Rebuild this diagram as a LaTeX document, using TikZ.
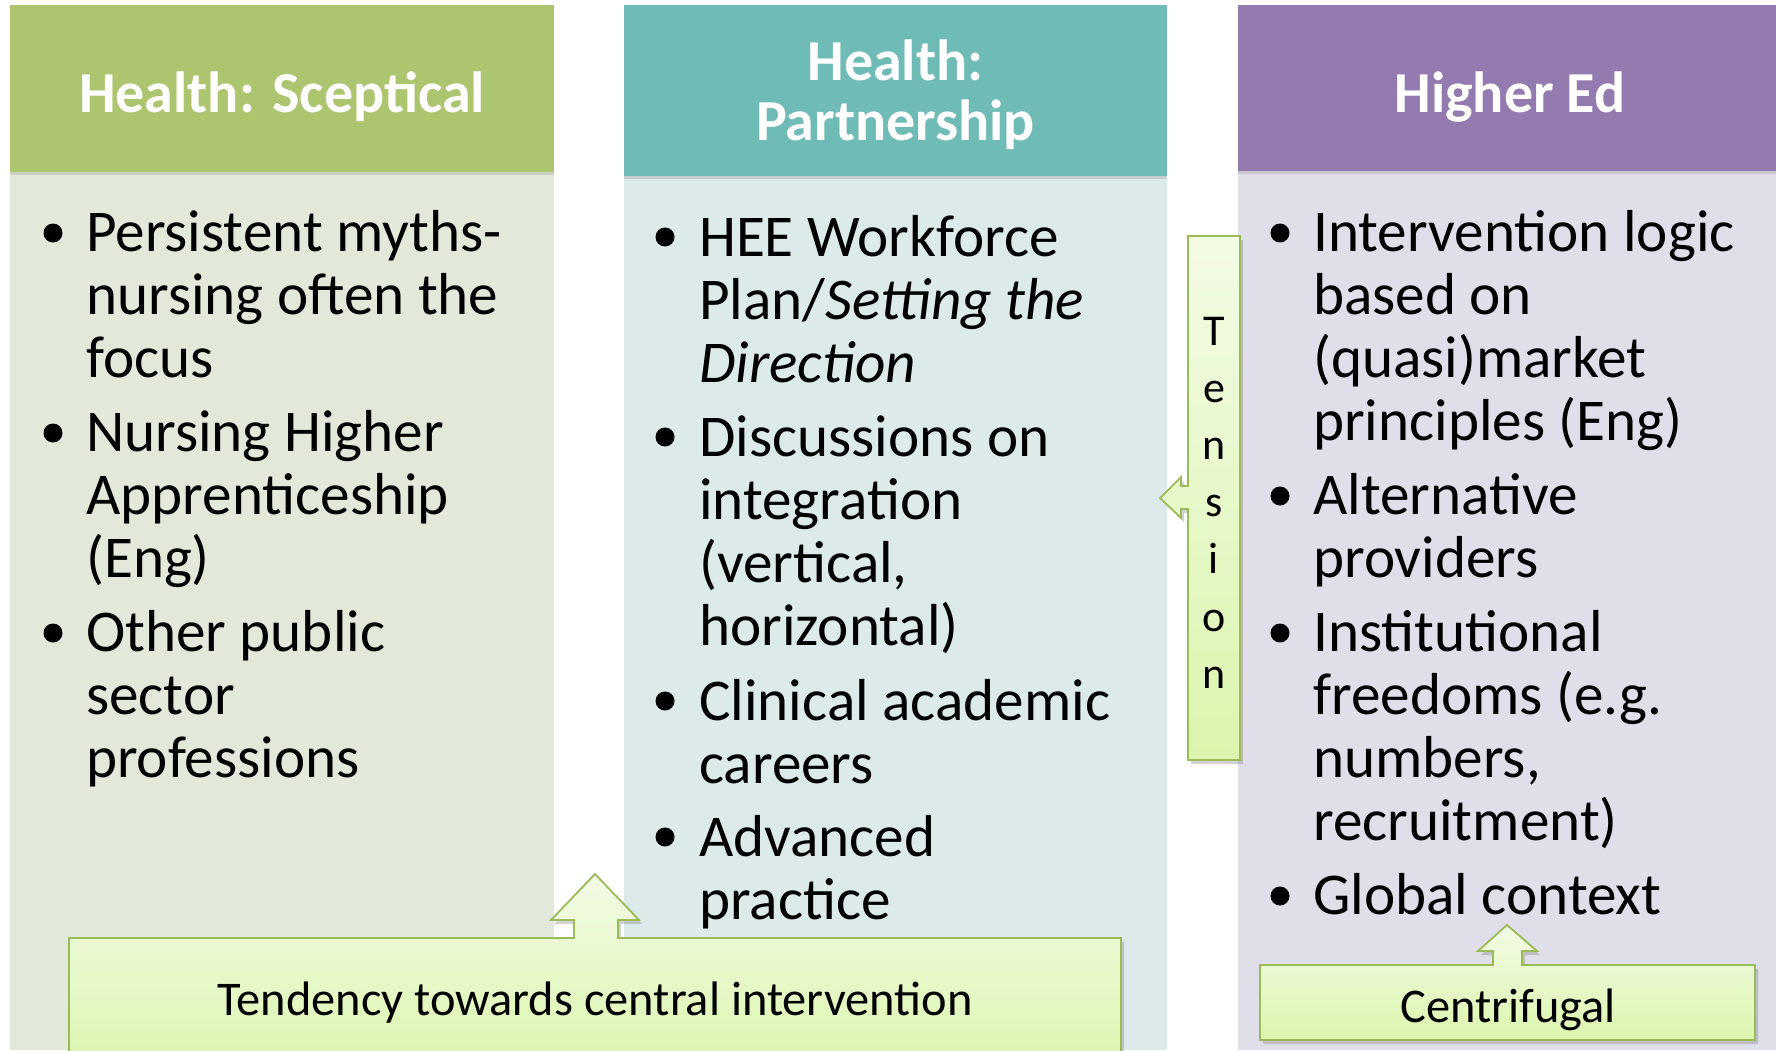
\documentclass[tikz,border=0pt]{standalone}
\usepackage{fontspec}
\setmainfont{Carlito}
\usetikzlibrary{shadows}
\definecolor{ghead}{HTML}{ADC56F}
\definecolor{gbody}{HTML}{E3E9DA}
\definecolor{thead}{HTML}{6FBBB5}
\definecolor{tbody}{HTML}{DCEAEA}
\definecolor{phead}{HTML}{937BB0}
\definecolor{pbody}{HTML}{E0DEE9}
\definecolor{calloutline}{HTML}{9BBB59}
\definecolor{callouttop}{HTML}{F3FBE5}
\definecolor{calloutbot}{HTML}{DBF5AE}
\tikzset{
  hdrbox/.style={rectangle, inner sep=0pt, anchor=north west, draw=none,
    drop shadow={shadow xshift=0pt, shadow yshift=-3pt, opacity=0.25}},
  bodybox/.style={rectangle, inner sep=0pt, anchor=north west, draw=none},
  hdrtext/.style={inner sep=0pt, anchor=base, text=white,
    font=\fontsize{58}{60}\selectfont\bfseries},
  itemtext/.style={inner sep=0pt, anchor=base west,
    font=\fontsize{59.2}{63}\selectfont},
  bul/.style={circle, fill=black, inner sep=0pt, minimum size=19pt},
  callout/.style={draw=calloutline, line width=1.8pt, line join=miter,
    top color=callouttop, bottom color=calloutbot,
    drop shadow={shadow xshift=3pt, shadow yshift=-4pt, opacity=0.35}},
  callouttext/.style={inner sep=0pt, anchor=base, font=\fontsize{48.4}{57.2}\selectfont}
}
\begin{document}
\begin{tikzpicture}[x=1pt, y=-1pt]
\useasboundingbox (0,0) rectangle (1776,1051);
\fill[white] (0,0) rectangle (1776,1051);

% column bodies
\node[bodybox, fill=gbody, minimum width=544pt, minimum height=880pt] (body1) at (10,170) {};
\node[bodybox, fill=tbody, minimum width=543pt, minimum height=880pt] (body2) at (624,170) {};
\node[bodybox, fill=pbody, minimum width=560pt, minimum height=880pt] (body3) at (1238,170) {};

% headers
\node[hdrbox, fill=ghead, minimum width=544pt, minimum height=167pt] (head1) at (10,5) {};
\node[hdrbox, fill=thead, minimum width=543pt, minimum height=171pt] (head2) at (624,5) {};
\node[hdrbox, fill=phead, minimum width=560pt, minimum height=166pt] (head3) at (1238,5) {};

\node[hdrtext] (h1) at (282,113) {Health: Sceptical};
\node[hdrtext] (h2) at (895.5,81) {\parbox[t]{450pt}{\centering Health:\\Partnership}};
\node[hdrtext] (h3) at (1510,113) {Higher Ed};

% column 1
\node[bul] (c1b1) at (53,233) {};
\node[itemtext] (c1i1) at (86,251) {\parbox[t]{470pt}{Persistent myths-\\nursing often the\\focus}};
\node[bul] (c1b2) at (53,433) {};
\node[itemtext] (c1i2) at (86,451) {\parbox[t]{470pt}{Nursing Higher\\Apprenticeship\\(Eng)}};
\node[bul] (c1b3) at (53,633) {};
\node[itemtext] (c1i3) at (86,651) {\parbox[t]{470pt}{Other public\\sector\\professions}};

% column 2
\node[bul] (c2b1) at (665,237) {};
\node[itemtext] (c2i1) at (699,256) {\parbox[t]{470pt}{HEE Workforce\\Plan/\textit{Setting the}\\\textit{Direction}}};
\node[bul] (c2b2) at (665,437) {};
\node[itemtext] (c2i2) at (699,456) {\parbox[t]{470pt}{Discussions on\\integration\\(vertical,\\horizontal)}};
\node[bul] (c2b3) at (665,701) {};
\node[itemtext] (c2i3) at (699,720) {\parbox[t]{470pt}{Clinical academic\\careers}};
\node[bul] (c2b4) at (665,837) {};
\node[itemtext] (c2i4) at (699,856) {\parbox[t]{470pt}{Advanced\\practice}};

% column 3
\node[bul] (c3b1) at (1280,233) {};
\node[itemtext] (c3i1) at (1313,251) {\parbox[t]{450pt}{Intervention logic\\based on\\(quasi)market\\principles (Eng)}};
\node[bul] (c3b2) at (1280,496) {};
\node[itemtext] (c3i2) at (1313,514) {\parbox[t]{450pt}{Alternative\\providers}};
\node[bul] (c3b3) at (1280,633) {};
\node[itemtext] (c3i3) at (1313,651) {\parbox[t]{450pt}{Institutional\\freedoms (e.g.\\numbers,\\recruitment)}};
\node[bul] (c3b4) at (1280,896) {};
\node[itemtext] (c3i4) at (1313,914) {\parbox[t]{450pt}{Global context}};

% Tension callout (arrow pointing left)
\path[callout] (1188,236) -- (1240,236) -- (1240,760) -- (1188,760) -- (1188,509)
  -- (1181,509) -- (1181,518) -- (1160,498) -- (1181,477) -- (1181,486) -- (1188,486) -- cycle;
\node[callouttext, font=\fontsize{44}{57.2}\selectfont] (tension) at (1214,345)
  {\parbox[t]{50pt}{\centering T\\e\\n\\s\\i\\o\\n}};

% Tendency callout (arrow pointing up)
\path[callout] (69,938) -- (574,938) -- (574,920) -- (551,920) -- (595,874) -- (639,920)
  -- (618,920) -- (618,938) -- (1121,938) -- (1121,1070) -- (69,1070) -- cycle;
\node[callouttext] (tendency) at (595,1015) {Tendency towards central intervention};

% Centrifugal callout (arrow pointing up)
\path[callout] (1260,965) -- (1493,965) -- (1493,951) -- (1478,951) -- (1507,925) -- (1537,951)
  -- (1522,951) -- (1522,965) -- (1755,965) -- (1755,1040) -- (1260,1040) -- cycle;
\node[callouttext] (centrifugal) at (1508,1022) {Centrifugal};
\end{tikzpicture}
\end{document}
